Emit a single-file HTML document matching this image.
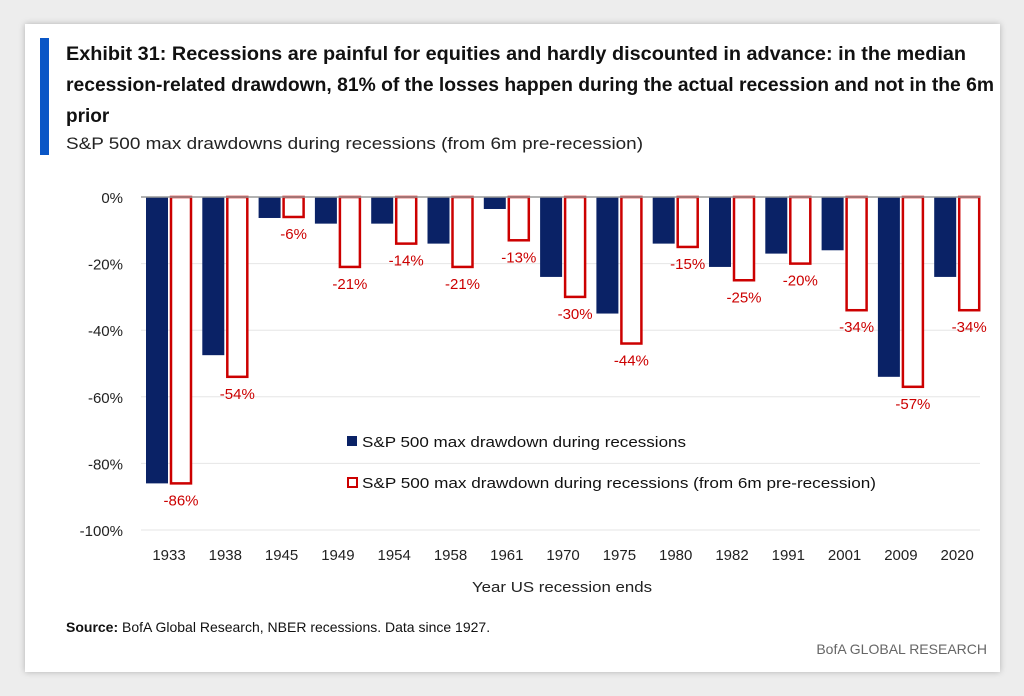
<!DOCTYPE html>
<html><head><meta charset="utf-8"><style>
html,body{margin:0;padding:0;width:1024px;height:696px;background:#ededed;overflow:hidden;font-family:"Liberation Sans",sans-serif}
#card{position:absolute;left:25px;top:24px;width:975px;height:648px;background:#fff;box-shadow:0 0 6px rgba(0,0,0,.25)}
svg{position:absolute;left:0;top:0}
</style></head><body>
<div id="card"></div>
<svg id="chart" width="1024" height="696">
<rect x="40" y="38" width="9" height="117" fill="#0a56c6"/>
<g font-weight="bold" font-size="19" fill="#111">
<text x="66" y="60" textLength="900" lengthAdjust="spacingAndGlyphs">Exhibit 31: Recessions are painful for equities and hardly discounted  in advance: in the median</text>
<text x="66" y="91" textLength="928" lengthAdjust="spacingAndGlyphs">recession-related drawdown, 81% of the losses happen during the actual recession and not in the 6m</text>
<text x="66" y="122">prior</text>
</g>
<text x="66" y="149" font-size="17" fill="#222" textLength="577" lengthAdjust="spacingAndGlyphs">S&amp;P 500 max drawdowns  during  recessions  (from 6m pre-recession)</text>
<g id="grid"></g><g id="bars"></g><g id="labels"></g>
<g font-size="15" fill="#111">
<rect x="347" y="436" width="10" height="10" fill="#0a2266"/>
<text x="362" y="447" textLength="324" lengthAdjust="spacingAndGlyphs">S&amp;P 500 max drawdown during recessions</text>
<rect x="348" y="478" width="9" height="9" fill="#fff" stroke="#cc0000" stroke-width="2"/>
<text x="362" y="488" textLength="514" lengthAdjust="spacingAndGlyphs">S&amp;P 500 max drawdown during recessions (from 6m pre-recession)</text>
</g>
<text x="562" y="592" font-size="15" fill="#222" text-anchor="middle" textLength="180" lengthAdjust="spacingAndGlyphs">Year US recession ends</text>
<text x="66" y="632" font-size="14" fill="#111"><tspan font-weight="bold">Source:</tspan> BofA Global Research, NBER recessions. Data since 1927.</text>
<text x="987" y="654" font-size="14" fill="#666" text-anchor="end">BofA GLOBAL RESEARCH</text>
</svg>
<script>
const years=["1933","1938","1945","1949","1954","1958","1961","1970","1975","1980","1982","1991","2001","2009","2020"];
const recession=[-86,-47.5,-6.3,-8,-8,-14,-3.6,-24,-35,-14,-21,-17,-16,-54,-24];
const preRecession=[-86,-54,-6,-21,-14,-21,-13,-30,-44,-15,-25,-20,-34,-57,-34];
const yTicks=[0,-20,-40,-60,-80,-100];
const NS="http://www.w3.org/2000/svg";
const y=v=>197+(-v)*3.33;
const x=i=>169+i*56.3;
function mk(tag,parent,attrs){const e=document.createElementNS(NS,tag);for(const k in attrs)e.setAttribute(k,attrs[k]);document.getElementById(parent).appendChild(e);return e;}
yTicks.forEach(t=>{
  if(t!==0){const g=mk('line','grid',{x1:141,x2:980,y1:y(t),y2:y(t),stroke:'#e6e6e6','stroke-width':1});
  
  }
  const l=mk('text','labels',{x:123,y:y(t)+6,'text-anchor':'end','font-size':15,fill:'#222'});
  l.textContent=t+'%';
  
  
});
years.forEach((yr,i)=>{
  const c=x(i);
  const b=mk('rect','bars',{x:c-23,y:y(0),width:22,height:y(recession[i])-y(0),fill:'#0a2266'});
  
  
  const r=mk('rect','bars',{x:c+2,y:y(0),width:20,height:y(preRecession[i])-y(0),fill:'#fff',stroke:'#cc0000','stroke-width':2.5});
  
  
  const v=mk('text','labels',{x:c+12,y:y(preRecession[i])+22,'text-anchor':'middle','font-size':15,fill:'#cc0000'});
  v.textContent=preRecession[i]+'%';
  
  
  const xl=mk('text','labels',{x:c,y:560,'text-anchor':'middle','font-size':15,fill:'#222'});
  xl.textContent=yr;
  
  
});
const ax=mk('line','bars',{x1:141,x2:980,y1:y(0),y2:y(0),stroke:'#999','stroke-width':1.5});


</script>
</body></html>
